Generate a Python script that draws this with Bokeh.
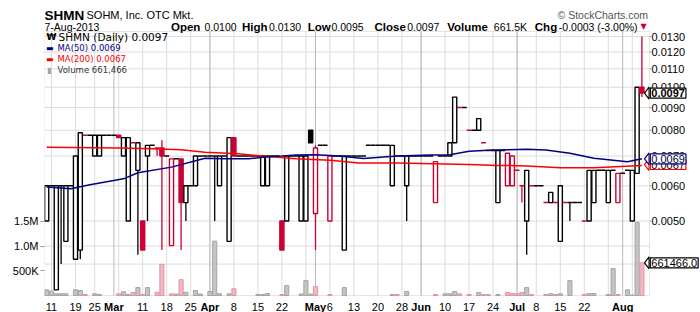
import math
from bokeh.plotting import figure
from bokeh.models import (Range1d, LinearAxis, LinearScale, FixedTicker, Label,
                          ColumnDataSource, BoxAnnotation)
from bokeh.embed import file_html
from bokeh.resources import INLINE

# ---------------- data (trading-day index, 0 = 11-Feb-2013, -1 = 8-Feb) ----------------
first_day = -1
opens = [0.0050, 0.0060, 0.0035, 0.0060, 0.0045, 0.0060, 0.0041, 0.0043, 0.0078, 0.0078, 0.0070,
         0.0070, 0.0078, 0.0078, 0.0078, 0.0078, 0.0070, 0.0050, 0.0075, 0.0065, 0.0050,
         0.0070, 0.0074, 0.0073, 0.0073, 0.0070, 0.0044, 0.0069, 0.0069, 0.0055, 0.0060,
         0.0060, 0.0070, 0.0070, 0.0070, 0.0070, 0.0060, 0.0070, 0.0045, 0.0077, 0.0070,
         0.0070, 0.0070, 0.0070, 0.0070, 0.0060, 0.0060, 0.0070, 0.0070, 0.0050, 0.0050,
         0.0070, 0.0070, 0.0050, 0.0050, 0.0080, 0.0052, 0.0074, 0.0074, 0.0050, 0.0070,
         0.0070, 0.0043, 0.0070, 0.0070, 0.0070, 0.0070, 0.0074, 0.0074, 0.0074, 0.0074,
         0.0074, 0.0060, 0.0070, 0.0070, 0.0060, 0.0070, 0.0070, 0.0070, 0.0070, 0.0070,
         0.0055, 0.0070, 0.0070, 0.0070, 0.0075, 0.0090, 0.0090, 0.0080, 0.0080, 0.0080,
         0.0075, 0.0072, 0.0072, 0.0055, 0.0072, 0.0060, 0.0060, 0.0065, 0.0060, 0.0050,
         0.0060, 0.0060, 0.0060, 0.0055, 0.0055, 0.0055, 0.0045, 0.0055, 0.0055, 0.0055,
         0.0055, 0.0050, 0.0050, 0.0055, 0.0065, 0.0065, 0.0055, 0.0065, 0.0055, 0.0064,
         0.0065, 0.0050, 0.0064, 0.0100]
highs = [0.0060, 0.0060, 0.0060, 0.0060, 0.0060, 0.0060, 0.0070, 0.0079, 0.0078, 0.0078, 0.0078,
         0.0078, 0.0078, 0.0078, 0.0078, 0.0078, 0.0077, 0.0077, 0.0075, 0.0075, 0.0050,
         0.0074, 0.0074, 0.0073, 0.0076, 0.0070, 0.0069, 0.0069, 0.0069, 0.0060, 0.0060,
         0.0070, 0.0070, 0.0070, 0.0070, 0.0070, 0.0070, 0.0070, 0.0077, 0.0077, 0.0070,
         0.0070, 0.0070, 0.0070, 0.0070, 0.0070, 0.0070, 0.0070, 0.0070, 0.0050, 0.0070,
         0.0070, 0.0070, 0.0070, 0.0070, 0.0080, 0.0074, 0.0074, 0.0074, 0.0070, 0.0070,
         0.0070, 0.0070, 0.0070, 0.0070, 0.0070, 0.0070, 0.0074, 0.0074, 0.0074, 0.0074,
         0.0074, 0.0074, 0.0070, 0.0070, 0.0070, 0.0070, 0.0070, 0.0070, 0.0070, 0.0070,
         0.0068, 0.0070, 0.0070, 0.0075, 0.0095, 0.0090, 0.0090, 0.0080, 0.0080, 0.0085,
         0.0075, 0.0072, 0.0072, 0.0072, 0.0072, 0.0071, 0.0070, 0.0065, 0.0060, 0.0065,
         0.0060, 0.0060, 0.0060, 0.0055, 0.0058, 0.0055, 0.0060, 0.0055, 0.0055, 0.0055,
         0.0055, 0.0050, 0.0065, 0.0065, 0.0065, 0.0065, 0.0065, 0.0065, 0.0064, 0.0064,
         0.0065, 0.0065, 0.0100, 0.0130]
lows = [0.0050, 0.0060, 0.0035, 0.0040, 0.0045, 0.0060, 0.0041, 0.0041, 0.0078, 0.0078, 0.0070,
        0.0070, 0.0078, 0.0078, 0.0078, 0.0077, 0.0070, 0.0050, 0.0075, 0.0042, 0.0043,
        0.0050, 0.0074, 0.0070, 0.0043, 0.0070, 0.0044, 0.0069, 0.0043, 0.0050, 0.0060,
        0.0060, 0.0070, 0.0070, 0.0070, 0.0050, 0.0060, 0.0070, 0.0045, 0.0070, 0.0070,
        0.0070, 0.0070, 0.0070, 0.0070, 0.0060, 0.0060, 0.0070, 0.0070, 0.0043, 0.0050,
        0.0070, 0.0070, 0.0050, 0.0050, 0.0075, 0.0043, 0.0074, 0.0074, 0.0050, 0.0070,
        0.0070, 0.0043, 0.0070, 0.0070, 0.0070, 0.0070, 0.0074, 0.0074, 0.0074, 0.0074,
        0.0074, 0.0060, 0.0070, 0.0070, 0.0050, 0.0070, 0.0070, 0.0070, 0.0070, 0.0070,
        0.0055, 0.0070, 0.0070, 0.0070, 0.0075, 0.0090, 0.0090, 0.0080, 0.0080, 0.0080,
        0.0075, 0.0072, 0.0072, 0.0055, 0.0072, 0.0060, 0.0060, 0.0065, 0.0055, 0.0042,
        0.0060, 0.0060, 0.0060, 0.0055, 0.0055, 0.0055, 0.0045, 0.0055, 0.0050, 0.0055,
        0.0055, 0.0050, 0.0050, 0.0055, 0.0065, 0.0065, 0.0055, 0.0065, 0.0055, 0.0064,
        0.0065, 0.0050, 0.0064, 0.0095]
closes = [0.0060, 0.0060, 0.0060, 0.0060, 0.0060, 0.0060, 0.0070, 0.0079, 0.0078, 0.0078, 0.0078,
          0.0078, 0.0078, 0.0078, 0.0078, 0.0077, 0.0077, 0.0077, 0.0075, 0.0075, 0.0043,
          0.0074, 0.0074, 0.0073, 0.0070, 0.0070, 0.0069, 0.0069, 0.0055, 0.0060, 0.0060,
          0.0070, 0.0070, 0.0070, 0.0070, 0.0070, 0.0070, 0.0070, 0.0077, 0.0070, 0.0070,
          0.0070, 0.0070, 0.0070, 0.0070, 0.0070, 0.0070, 0.0070, 0.0070, 0.0043, 0.0070,
          0.0070, 0.0070, 0.0070, 0.0070, 0.0075, 0.0073, 0.0074, 0.0074, 0.0070, 0.0070,
          0.0070, 0.0070, 0.0070, 0.0070, 0.0070, 0.0070, 0.0074, 0.0074, 0.0074, 0.0074,
          0.0074, 0.0074, 0.0070, 0.0070, 0.0070, 0.0070, 0.0070, 0.0070, 0.0070, 0.0070,
          0.0068, 0.0070, 0.0070, 0.0075, 0.0095, 0.0090, 0.0090, 0.0080, 0.0080, 0.0085,
          0.0075, 0.0072, 0.0072, 0.0072, 0.0072, 0.0071, 0.0070, 0.0065, 0.0060, 0.0065,
          0.0060, 0.0060, 0.0060, 0.0055, 0.0058, 0.0055, 0.0060, 0.0055, 0.0055, 0.0055,
          0.0055, 0.0050, 0.0065, 0.0065, 0.0065, 0.0065, 0.0065, 0.0065, 0.0064, 0.0064,
          0.0065, 0.0065, 0.0100, 0.0097]
volumes = [115000, 90000, 35000, 35000, 35000, 0, 115000, 100000, 20000, 0, 35000,
           20000, 0, 0, 0, 35000, 75000, 20000, 60000, 160000, 20000,
           160000, 0, 65000, 630000, 0, 35000, 30000, 320000, 65000, 0,
           100000, 30000, 0, 80000, 1100000, 35000, 0, 35000, 135000, 0,
           0, 0, 0, 20000, 20000, 40000, 0, 0, 20000, 200000,
           0, 0, 30000, 300000, 30000, 180000, 0, 0, 20000, 0,
           0, 160000, 0, 0, 0, 0, 0, 0, 0, 0,
           0, 20000, 20000, 0, 80000, 0, 0, 0, 0, 0,
           20000, 0, 35000, 35000, 80000, 35000, 0, 20000, 0, 60000,
           20000, 20000, 0, 20000, 0, 60000, 40000, 35000, 60000, 160000,
           20000, 0, 0, 20000, 35000, 20000, 35000, 0, 300000, 0,
           0, 20000, 40000, 40000, 0, 0, 20000, 545000, 20000, 0,
           115000, 10000, 1480000, 661466]

ma50_days = [-1, 4, 8, 15, 18, 25, 32, 36, 41, 44, 48, 51, 55, 60, 65, 72, 79, 83, 87, 92,
             99, 103, 108, 113, 120, 123]
ma50_vals = [0.00596, 0.00591, 0.00603, 0.00622, 0.00642, 0.00661, 0.00692, 0.00690, 0.00690,
             0.00696, 0.00700, 0.00704, 0.00705, 0.00700, 0.00691, 0.00700, 0.00704, 0.00705,
             0.00718, 0.00722, 0.00725, 0.00722, 0.00710, 0.00692, 0.00680, 0.00690]
ma200_days = [-1, 14, 21, 27, 32, 39, 44, 51, 58, 64, 72, 87, 93, 99, 106, 113, 123]
ma200_vals = [0.00733, 0.00730, 0.00727, 0.00723, 0.00714, 0.00708, 0.00700, 0.00690, 0.00685,
              0.00675, 0.00675, 0.00670, 0.00667, 0.00665, 0.00659, 0.00659, 0.00667]

tick_days = [0, 5, 9, 19, 24, 29, 38, 43, 48, 58, 63, 68, 73, 82, 87, 92, 101, 106, 111]
tick_labels = ["11", "19", "25", "11", "18", "25", "8", "15", "22", "6", "13", "20", "28",
               "10", "17", "24", "8", "15", "22"]
month_days = [13, 33, 55, 77, 97, 119]
month_labels = ["Mar", "Apr", "May", "Jun", "Jul", "Aug"]
week_days = [0, 5, 9, 14, 19, 24, 29, 33, 38, 43, 48, 53, 58, 63, 68, 73, 77, 82, 87, 92,
             97, 101, 106, 111, 116, 121]
price_ticks = [0.004, 0.005, 0.006, 0.007, 0.008, 0.009, 0.010, 0.011, 0.012, 0.013]
vol_ticks = [500000, 1000000, 1500000]
vol_tick_labels = ["500K", "1.0M", "1.5M"]

# ---------------- layout (pixels) ----------------
W, H = 700, 312
FL = 44                     # left border holding the volume axis
PL, PR, PT, PB = 44, 649, 31, 295   # price/volume panel inside the frame
X0, PX_DAY = 51.0, 4.8
P_REF, P_REF_PX, PX_LN = 0.005, 220.5, 193.0
VOL_PX = 661466 / 32.7

def xi(px):
    return (px - X0) / PX_DAY

def yv(py):
    return (PB - py) * VOL_PX

def yp(py):
    return P_REF * math.exp((P_REF_PX - py) / PX_LN)

def py_of(price):
    return P_REF_PX - PX_LN * math.log(price / P_REF)

p = figure(width=W, height=H, x_range=Range1d(xi(FL), xi(W)), y_range=Range1d(yp(H), yp(0)),
           y_axis_type="log", x_axis_location=None, y_axis_location=None,
           output_backend="svg", toolbar_location=None,
           min_border_left=FL, min_border_right=0, min_border_top=0, min_border_bottom=0)
p.extra_y_ranges = {"vol": Range1d(yv(H), yv(0))}
p.extra_y_scales = {"vol": LinearScale()}
p.background_fill_color = "white"
p.border_fill_color = "white"
p.outline_line_color = None
p.grid.visible = False

# volume axis (left border)
va = LinearAxis(y_range_name="vol", ticker=FixedTicker(ticks=vol_ticks),
                major_label_overrides=dict(zip(vol_ticks, vol_tick_labels)))
va.major_label_text_font = "Liberation Sans"
va.major_label_text_font_size = "11px"
va.major_label_text_color = "black"
va.axis_line_color = None
va.major_tick_in = 0
va.major_tick_out = 4
va.major_tick_line_color = "#999999"
va.minor_tick_line_color = None
va.major_label_standoff = 2
p.add_layout(va, "left")

# grid lines inside the panel
GRID = "#dcdcdc"
p.segment(x0=xi(PL), x1=xi(PR), y0=price_ticks, y1=price_ticks, line_color=GRID, line_width=1)
p.segment(x0=xi(PL), x1=xi(PR), y0=1000000, y1=1000000, y_range_name="vol",
          line_color=GRID, line_width=1)
p.segment(x0=week_days, x1=week_days, y0=yp(PB), y1=yp(PT), line_color=GRID, line_width=1)
p.segment(x0=month_days, x1=month_days, y0=yp(PB), y1=yp(PT), line_color="#b8b8b8", line_width=1)

# ---------------- marks ----------------
RED, BLK = "#cc0033", "#000000"
days = list(range(first_day, first_day + len(closes)))
colors, fills = [], []
for k in range(len(closes)):
    prev = closes[k - 1] if k > 0 else closes[k]
    c = RED if closes[k] < prev else BLK
    colors.append(c)
    fills.append(c if closes[k] < opens[k] else "white")

vk = [k for k in range(len(volumes)) if volumes[k] > 0]
vsrc = ColumnDataSource(dict(
    x=[days[k] for k in vk], top=[volumes[k] for k in vk],
    fill=[("#f2b8bf" if colors[k] == RED else "#c4c4c4") for k in vk],
    line=[("#e495a0" if colors[k] == RED else "#a4a4a4") for k in vk]))
p.vbar(x="x", top="top", bottom=0, width=0.86, source=vsrc, y_range_name="vol",
       fill_color="fill", line_color="line", line_width=1)

wk = [k for k in range(len(closes)) if highs[k] > lows[k]]
p.segment(x0=[days[k] for k in wk], y0=[lows[k] for k in wk],
          x1=[days[k] for k in wk], y1=[highs[k] for k in wk],
          line_color=[colors[k] for k in wk], line_width=1.3)

bd = [k for k in range(len(closes)) if opens[k] != closes[k]]
bsrc = ColumnDataSource(dict(
    x=[days[k] for k in bd],
    top=[max(opens[k], closes[k]) for k in bd],
    bottom=[min(opens[k], closes[k]) for k in bd],
    color=[colors[k] for k in bd],
    fill=[fills[k] for k in bd]))
p.vbar(x="x", top="top", bottom="bottom", width=0.86, source=bsrc,
       fill_color="fill", line_color="color", line_width=1.4)

fl = [k for k in range(len(closes)) if opens[k] == closes[k]]
p.segment(x0=[days[k] - 0.5 for k in fl], y0=[closes[k] for k in fl],
          x1=[days[k] + 0.5 for k in fl], y1=[closes[k] for k in fl],
          line_color=[colors[k] for k in fl], line_width=1.5)

p.line(ma200_days, ma200_vals, line_color="#ff0000", line_width=1.5)
p.line(ma50_days, ma50_vals, line_color="#000080", line_width=1.5)

# panel outline
p.add_layout(BoxAnnotation(left=xi(PL), right=xi(PR), bottom=yp(PB), top=yp(PT),
                           fill_color=None, line_color="#a8a8a8", line_width=1))

# ---------------- texts ----------------
def txt(px, py, s, size, bold=False, color="black", font="Liberation Sans",
        align="left", baseline="alphabetic"):
    p.add_layout(Label(x=xi(px), y=yv(py), y_range_name="vol", text=s,
                       text_font=font, text_font_size=f"{size}px",
                       text_font_style="bold" if bold else "normal",
                       text_color=color, text_align=align, text_baseline=baseline))

# header
txt(44, 15, "SHMN", 13.5, bold=True)
txt(86, 14.5, "SOHM, Inc. OTC Mkt.", 11)
txt(557, 14, "\u00a9 StockCharts.com", 10.5, color="#555555")
txt(44, 26.7, "7-Aug-2013", 10.5)
for px, s, b in [(170.5, "Open", True), (204, "0.0100", False), (241.5, "High", True),
                 (268.5, "0.0130", False), (307.3, "Low", True), (331, "0.0095", False),
                 (374, "Close", True), (406.7, "0.0097", False), (446.7, "Volume", True),
                 (493.3, "661.5K", False), (534.3, "Chg", True), (558.3, "-0.0003 (-3.00%)", False)]:
    txt(px, 26.7, s, 11.5 if b else 10.5, bold=b)
txt(640, 26, "\u25bc", 8, color=RED, font="DejaVu Sans")

# legend
txt(46, 36.5, "\u20a9", 9, bold=True, font="DejaVu Sans", baseline="middle")
txt(58, 36.5, "SHMN (Daily) 0.0097", 10.5, font="DejaVu Sans", baseline="middle")
txt(45.5, 47.5, "\u25ac", 8, color="#000080", font="DejaVu Sans", baseline="middle")
txt(57, 47.5, "MA(50) 0.0069", 8.5, color="#000080", font="DejaVu Sans", baseline="middle")
txt(45.5, 58.5, "\u25ac", 8, color="#ff0000", font="DejaVu Sans", baseline="middle")
txt(57, 58.5, "MA(200) 0.0067", 8.5, color="#ff0000", font="DejaVu Sans", baseline="middle")
txt(46.5, 69.5, "\u25ae", 8, color="#a0a0a0", font="DejaVu Sans", baseline="middle")
txt(57, 69.5, "Volume 661,466", 8.5, color="#333333", font="DejaVu Sans", baseline="middle")

# date labels
for d, s in zip(tick_days, tick_labels):
    p.add_layout(Label(x=d, y=yv(306), y_range_name="vol", text=s,
                       text_font="Liberation Sans", text_font_size="11px",
                       text_align="center", text_baseline="alphabetic", text_color="black"))
for d, m in zip(month_days, month_labels):
    p.add_layout(Label(x=d, y=yv(306), y_range_name="vol", text=m,
                       text_font="Liberation Sans", text_font_size="11px",
                       text_font_style="bold", text_align="center",
                       text_baseline="alphabetic", text_color="black"))

# price scale labels (right of the panel)
for t in price_ticks:
    p.add_layout(Label(x=xi(651), y=t, text=f"{t:.4f}", text_font="Liberation Sans",
                       text_font_size="11px", text_align="left", text_baseline="middle",
                       text_color="black"))
    p.segment(x0=xi(PR), x1=xi(PR + 2), y0=t, y1=t, line_color="#999999", line_width=1)

# last-value tags: boxed labels with a pointed left tip
def tag(value, s, border, color="black", bold=False, vol=False):
    cy = (PB - value / VOL_PX) if vol else py_of(value)
    tip_x = [xi(644), xi(648.6), xi(648.6)]
    tip_px = [cy, cy - 6, cy + 6]
    kw = {"y_range_name": "vol"} if vol else {}
    conv = yv if vol else yp
    p.patch(tip_x, [conv(y) for y in tip_px], fill_color="white", line_color=border,
            line_width=1.2, **kw)
    p.add_layout(Label(x=xi(649.8), y=value, text=s, text_font="Liberation Sans",
                       text_font_size="11px", text_font_style="bold" if bold else "normal",
                       text_color=color, text_align="left", text_baseline="middle",
                       background_fill_color="white", border_line_color=border,
                       border_line_width=1.2, padding=1, **kw))

tag(0.0067, "0.0067", "#ff0000")
tag(0.0069, "0.0069", "#000080", color="#000033")
tag(closes[-1], "0.0097", "black", bold=True)
tag(volumes[-1], "661466.0", "black", vol=True)

open("out.html", "w").write(file_html(p, INLINE))
